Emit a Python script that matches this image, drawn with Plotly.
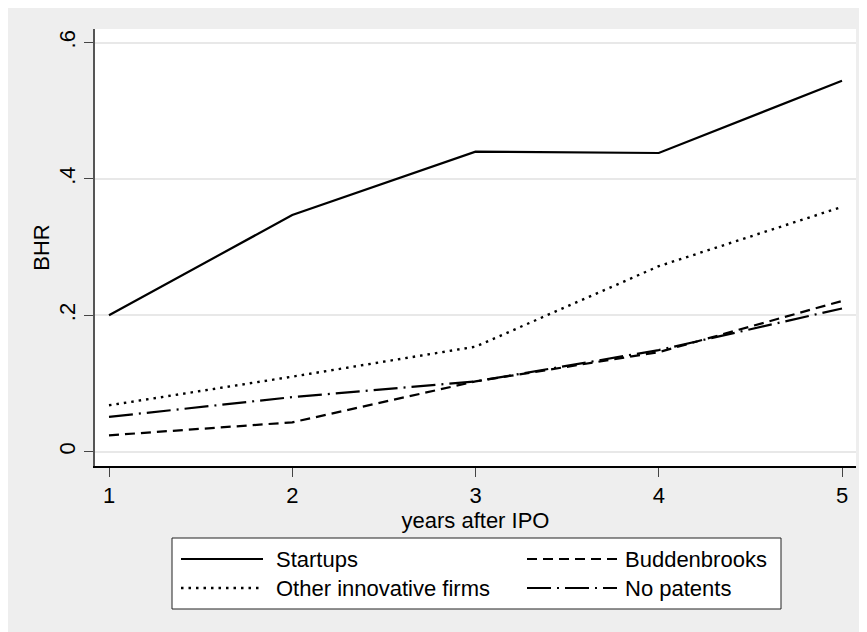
import plotly.graph_objects as go

years = [1, 2, 3, 4, 5]
startups = [0.200, 0.347, 0.440, 0.438, 0.544]
other_innov = [0.068, 0.110, 0.154, 0.272, 0.359]
buddenbrooks = [0.024, 0.043, 0.103, 0.146, 0.221]
no_patents = [0.051, 0.080, 0.103, 0.149, 0.210]

series_names = ["Startups", "Other innovative firms", "Buddenbrooks", "No patents"]
y_tickvals = [0, 0.2, 0.4, 0.6]
y_ticktext = ["0", ".2", ".4", ".6"]
x_tickvals = [1, 2, 3, 4, 5]

# page body margin offset (screen px -> figure px)
OX, OY = 8, 8
W, H = 867, 632
# plot area in screen coords: x 95..856, y 29..466
ML = 95 - OX
MT = 29 - OY
MR = W - (856 - OX)
MB = H - (466 - OY)
PW = W - ML - MR
PH = H - MT - MB


def px_x(sx):
    return (sx - OX - ML) / PW


def px_y(sy):
    return (H - MB - (sy - OY)) / PH


FONT = "Liberation Sans, Arial, sans-serif"
FS = 22
styles = {
    "Startups": dict(color="black", width=2.2, dash="solid"),
    "Other innovative firms": dict(color="black", width=2.4, dash="2.5px,5px"),
    "Buddenbrooks": dict(color="black", width=2.2, dash="10px,6px"),
    "No patents": dict(color="black", width=2.2, dash="24px,6px,2px,6px"),
}
data = {
    "Startups": startups,
    "Other innovative firms": other_innov,
    "Buddenbrooks": buddenbrooks,
    "No patents": no_patents,
}

fig = go.Figure()
for name in series_names:
    fig.add_trace(go.Scatter(x=years, y=data[name], mode="lines", name=name,
                             line=styles[name], showlegend=False))

fig.update_layout(
    width=W, height=H,
    margin=dict(l=ML, r=MR, t=MT, b=MB, pad=0),
    paper_bgcolor="#EEEEEE",
    plot_bgcolor="white",
    font=dict(family=FONT, size=FS, color="black"),
    xaxis=dict(range=[0.9236, 5.0764], tickvals=x_tickvals, showgrid=False,
               zeroline=False, showline=True, linecolor="black", linewidth=1.5,
               ticks="outside", ticklen=9, tickcolor="#444", tickwidth=1,
               tickfont=dict(size=FS), fixedrange=True,
               title=dict(text="years after IPO", standoff=1, font=dict(size=FS))),
    yaxis=dict(range=[-0.021, 0.6198], tickvals=y_tickvals, ticktext=y_ticktext,
               showgrid=True, gridcolor="#E8E8E8", gridwidth=2,
               zeroline=False, showline=True, linecolor="#555", linewidth=1.5,
               ticks="outside", ticklen=9, tickcolor="#444", tickwidth=1,
               tickangle=-90, tickfont=dict(size=FS), fixedrange=True,
               title=dict(text="BHR", standoff=0, font=dict(size=FS))),
)

shapes = []
# legend box
LX0, LX1, LY0, LY1 = 172, 781, 538, 609
shapes.append(dict(type="rect", xref="paper", yref="paper",
                   x0=px_x(LX0), x1=px_x(LX1), y0=px_y(LY1), y1=px_y(LY0),
                   fillcolor="white", line=dict(color="#222", width=1)))

legend_pos = {
    "Startups": (181, 263, 274, 559),
    "Other innovative firms": (181, 263, 274, 588),
    "Buddenbrooks": (527, 617, 623, 559),
    "No patents": (527, 617, 623, 588),
}
annotations = []
for name in series_names:
    sx0, sx1, tx, ty = legend_pos[name]
    st = styles[name]
    shapes.append(dict(type="line", xref="paper", yref="paper",
                       x0=px_x(sx0), x1=px_x(sx1), y0=px_y(ty), y1=px_y(ty),
                       line=dict(color=st["color"], width=st["width"], dash=st["dash"])))
    annotations.append(dict(xref="paper", yref="paper", x=px_x(tx), y=px_y(ty),
                            text=name, showarrow=False, xanchor="left", yanchor="middle",
                            font=dict(size=FS, family=FONT, color="black")))

fig.update_layout(shapes=shapes, annotations=annotations)
fig.write_html("out.html")
